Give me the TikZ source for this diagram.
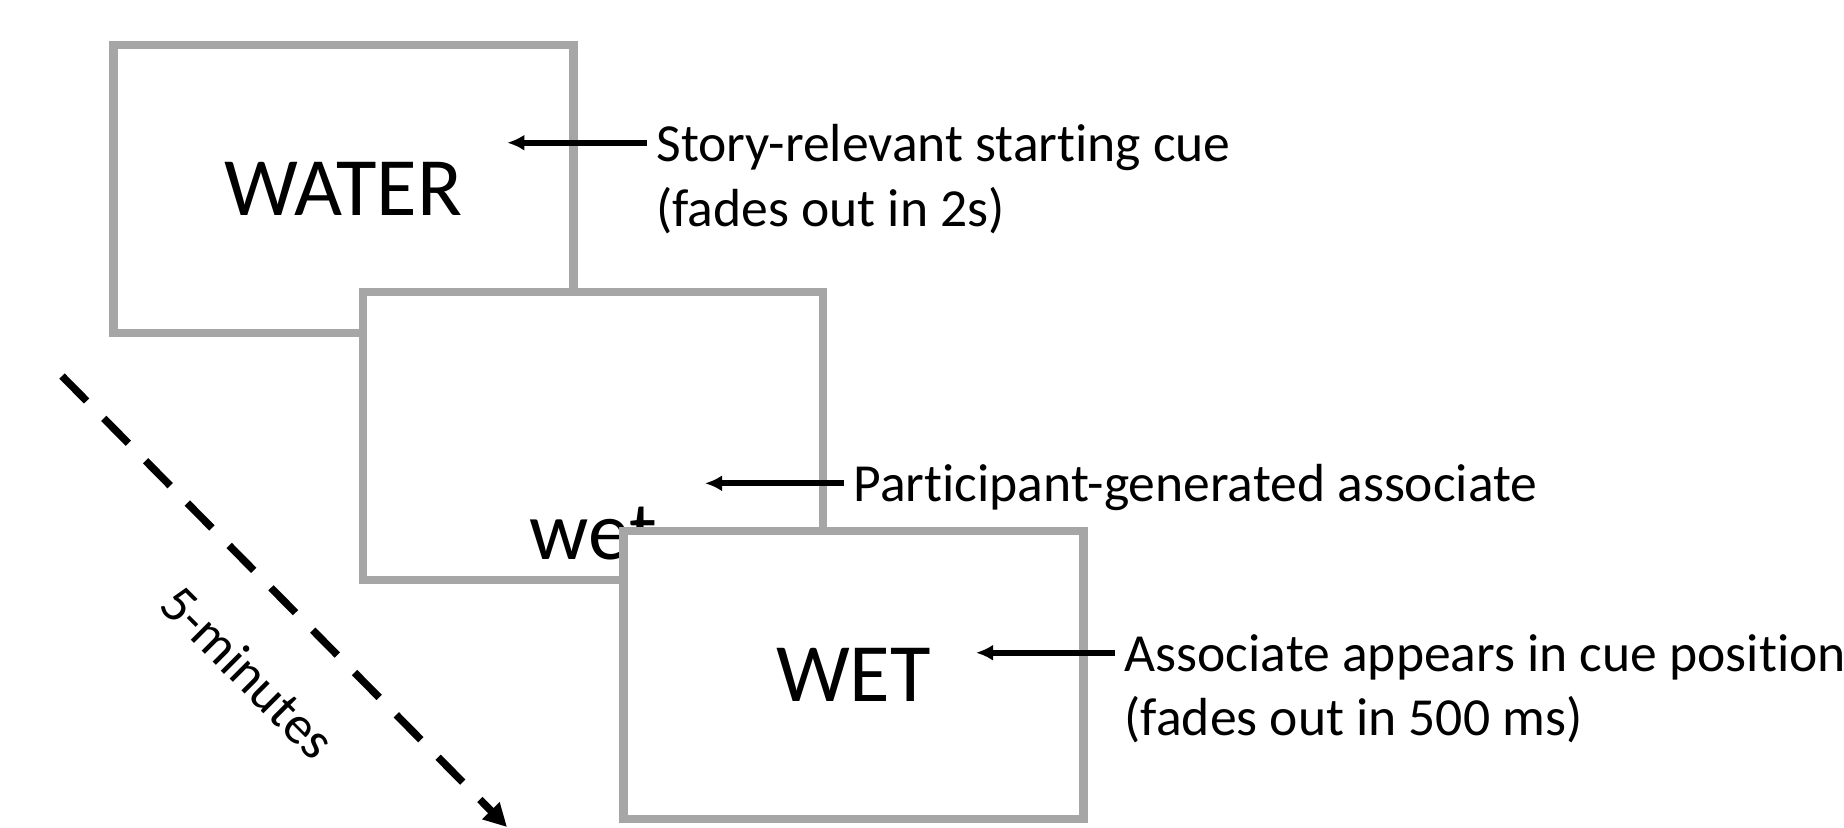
\documentclass[tikz,border=0pt]{standalone}
\usepackage{fontspec}
\setmainfont{Carlito}[Ligatures=NoCommon]
\usetikzlibrary{arrows.meta,positioning,calc}
\definecolor{framegray}{HTML}{A6A6A6}

\begin{document}
\begin{tikzpicture}[
	screen/.style={draw=framegray, line width=0.083cm, fill=white, minimum width=4.6cm, minimum height=2.88cm, inner sep=0pt},
	word/.style={font=\fontsize{23.6}{28}\selectfont, inner sep=0pt},
	lbl/.style={font=\fontsize{15.25}{18}\selectfont, inner sep=0pt, anchor=base west},
	pointer/.style={line width=0.06cm, -{Latex[length=0.17cm,width=0.16cm]}},
	timeline/.style={line width=0.075cm, dash pattern=on 0.35cm off 0.245cm, -{Triangle[length=0.23cm,width=0.23cm]}}
]
\useasboundingbox (0,0) rectangle (18.44,-8.27);
\node[screen](s1) at (3.434,-1.891){};
\node[word](cue) at (s1.center){WATER};
\node[screen](s2) at (5.932,-4.359){};
\node[word, anchor=base](assoc) at ([yshift=0.25cm]s2.south){wet};
\node[screen](s3) at (8.534,-6.749){};
\node[word](echo) at (s3.center){WET};

\coordinate(a1) at (6.467,-1.427);
\coordinate(c1) at (5.073,-1.427);
\coordinate(a2) at (8.44,-4.833);
\coordinate(c2) at (7.05,-4.833);
\coordinate(a3) at (11.15,-6.527);
\coordinate(c3) at (9.76,-6.527);
\node[lbl](l1) at ([xshift=0.09cm,yshift=-0.19cm]a1){Story-relevant starting cue};
\node[lbl](l1b) at ([yshift=-0.645cm]l1.base west){(fades out in 2s)};
\node[lbl](l2) at ([xshift=0.09cm,yshift=-0.185cm]a2){Participant-generated associate};
\node[lbl](l3) at ([xshift=0.09cm,yshift=-0.185cm]a3){Associate appears in cue position};
\node[lbl](l3b) at ([yshift=-0.645cm]l3.base west){(fades out in 500 ms)};
\draw[pointer](a1)--(c1);
\draw[pointer](a2)--(c2);
\draw[pointer](a3)--(c3);

\coordinate(t0) at (0.62,-3.76);
\coordinate(t1) at (5.07,-8.27);
\draw[timeline](t0)--(t1);
\node[lbl, anchor=center, rotate=-45](tlbl) at (2.48,-6.72){5-minutes};
\end{tikzpicture}
\end{document}
